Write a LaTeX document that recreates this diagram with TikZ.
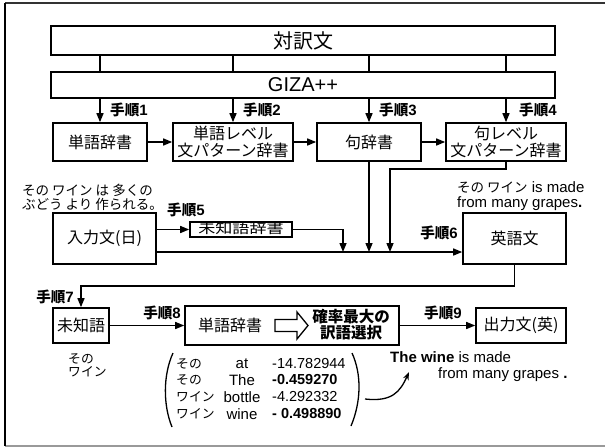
\documentclass[tikz,border=0pt]{standalone}
\usepackage{fontspec}
\setmainfont{Liberation Sans}
\newfontfamily\jp{Noto Sans CJK JP}
\usetikzlibrary{arrows.meta,calc}
\newcommand{\stl}[1]{{\fontsize{14.6}{14}\selectfont\bfseries\jp 手順}{\fontsize{15}{14}\selectfont\bfseries #1}}
\newcommand{\js}[1]{{\fontsize{13.5}{14}\selectfont\jp #1}}
\newcommand{\jt}[1]{{\fontsize{12.8}{14}\selectfont\jp #1}}
\begin{document}
\begin{tikzpicture}[x=1pt,y=-1pt,
  box/.style={draw,line width=1.6pt,inner sep=0pt,align=center,font=\fontsize{16}{17}\selectfont\jp},
  arr/.style={line width=1.4pt,-{Triangle[length=9pt,width=7pt]}},
  ln/.style={line width=1.4pt},
  txt/.style={inner sep=0pt,font=\fontsize{15}{16}\selectfont},
  lbl/.style={inner sep=0pt}
]
\useasboundingbox (0,0) rectangle (605,447);
% frame
\draw[line width=1.5pt,black!80] (5,3) -- (605,3);
\draw[line width=1.5pt,gray!80] (5,446) -- (605,446);
\draw[line width=2pt] (5,3) -- (5,446);

% top boxes
\node[box,minimum width=504pt,minimum height=29pt,font=\fontsize{20}{20}\selectfont\jp] (tw) at (303,40.5) {対訳文};
\node[box,minimum width=504pt,minimum height=26pt,font=\fontsize{20}{20}\selectfont] (giza) at (303,85) {GIZA++};

% row 1
\node[box,minimum width=94pt,minimum height=38pt] (b1) at (100,142) {単語辞書};
\node[box,minimum width=120pt,minimum height=38pt] (b2) at (233,142) {単語レベル\\文パターン辞書};
\node[box,minimum width=104pt,minimum height=38pt] (b3) at (369,142) {句辞書};
\node[box,minimum width=120pt,minimum height=38pt] (b4) at (506,142) {句レベル\\文パターン辞書};

\foreach \b in {b1,b2,b3,b4}{
  \draw[ln] (tw.south -| \b) -- (giza.north -| \b);
  \draw[arr] (giza.south -| \b) -- (\b.north);
}
\node[lbl,anchor=west] (s1) at (110,110) {\stl{1}};
\node[lbl,anchor=west] (s2) at (243,110) {\stl{2}};
\node[lbl,anchor=west] (s3) at (379,110) {\stl{3}};
\node[lbl,anchor=west] (s4) at (519,110) {\stl{4}};

\draw[arr] (b1.east) -- (b2.west);
\draw[arr] (b2.east) -- (b3.west);
\draw[arr] (b3.east) -- (b4.west);

% row 2
\node[txt,anchor=west] (jsa) at (22,190) {\js{その ワイン は 多くの}};
\node[txt,anchor=west] (jsb) at (22,204) {\js{ぶどう より 作られる。}};
\node[lbl,anchor=west] (s5) at (167,210) {\stl{5}};
\node[box,minimum width=103pt,minimum height=51pt] (in) at (104.5,238.5) {入力文(日)};
\node[box,minimum width=102pt,minimum height=15pt,text height=10pt,text depth=1.5pt,font=\fontsize{14}{14}\selectfont\jp] (ud) at (241,229.5) {\scalebox{1.22}[1]{未知語辞書}};
\node[box,minimum width=103pt,minimum height=51pt] (en) at (514.5,238.5) {英語文};
\node[txt,anchor=west] (esa) at (457,187) {\js{その ワイン} is made};
\node[txt,anchor=west] (esb) at (457,204) {from many grapes{\bfseries .}};
\node[lbl,anchor=east] (s6) at (458,233) {\stl{6}};

\coordinate (mline) at (0,252);
\coordinate (d1) at (343,252);
\coordinate (k) at (390,169);
\draw[arr] (in.east |- ud.west) -- (ud.west);
\draw[arr] (in.east |- mline) -- (en.west |- mline);
\draw[arr] (ud.east) -| (d1);
\draw[arr] (b3.south) -- (b3.south |- mline);
\draw[arr] (b4.south) |- (k) -- (k |- mline);

% row 3
\node[box,minimum width=56pt,minimum height=35pt] (mw) at (81,325.5) {未知語};
\node[box,minimum width=214pt,minimum height=39pt] (wd) at (292,325.5) {};
\node[box,minimum width=90pt,minimum height=35pt] (out) at (521,325.5) {出力文(英)};
\node[lbl,font=\fontsize{16}{16}\selectfont\jp] (wdt) at (230,325.5) {単語辞書};
\node[lbl,align=center,font=\fontsize{15.5}{16}\selectfont\bfseries\jp] (sel) at (351,325) {確率最大の\\訳語選択};
\draw[line width=1.3pt] (275,319.5) -- (297,319.5) -- (297,312) -- (308,325.5) -- (297,339) -- (297,331.5) -- (275,331.5) -- cycle;

\coordinate (r) at (0,286);
\draw[arr] (en.south) |- (mw.north |- r) -- (mw.north);
\draw[arr] (mw.east) -- (wd.west);
\draw[arr] (wd.east) -- (out.west);
\node[lbl,anchor=east] (s7) at (74,297) {\stl{7}};
\node[lbl,anchor=east] (s8) at (181,313) {\stl{8}};
\node[lbl] (s9) at (443,313) {\stl{9}};

\node[lbl,anchor=west] (ua) at (68,359) {\jt{その}};
\node[lbl,anchor=west] (ub) at (68,372) {\jt{ワイン}};

% table
\draw[line width=1.3pt] (173,353) .. controls (163,375) and (163,405) .. (172,427);
\draw[line width=1.3pt] (352,353) .. controls (362,375) and (361,402) .. (351,426);
\foreach \y/\j/\e/\n in {364/その/at/{-14.782944},380/その/The/{\bfseries -0.459270},397/ワイン/bottle/{-4.292332},414/ワイン/wine/{\bfseries - 0.498890}}{
  \node[lbl,anchor=west] at (176,\y) {\jt{\j}};
  \node[txt] at (242,\y) {\e};
  \node[txt,anchor=west,font=\fontsize{14.5}{15}\selectfont] at (272,\y) {\n};
}
\draw[line width=1.3pt,-{Stealth[length=8pt,width=6pt]}] (365,399) .. controls (392,402) and (400,392) .. (409,372);
\node[txt,anchor=west] (tw1) at (390,357) {{\bfseries The wine} is made};
\node[txt,anchor=west] (tw2) at (438,375) {from many grapes {\bfseries .}};
\end{tikzpicture}
\end{document}
